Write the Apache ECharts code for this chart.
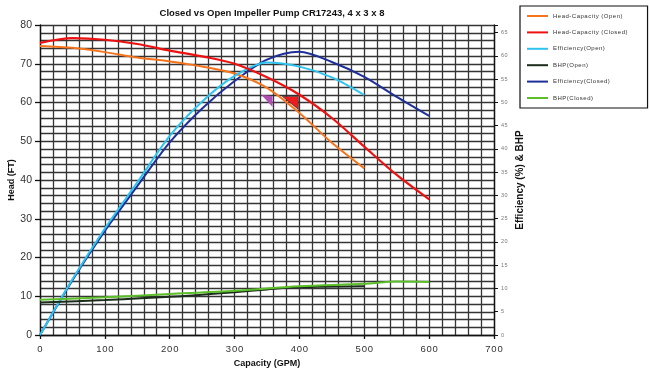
<!DOCTYPE html>
<html>
<head>
<meta charset="utf-8">
<title>Closed vs Open Impeller Pump</title>
<script src="https://cdn.jsdelivr.net/npm/echarts@6/dist/echarts.min.js"></script>
<style>
html, body { margin: 0; padding: 0; background: #fff; }
#chart { width: 650px; height: 375px; }
</style>
</head>
<body>
<div id="chart"></div>
<script>
var capClosed = [0, 50, 100, 150, 200, 250, 300, 350, 400, 450, 500, 550, 600];
var capOpen = [0, 50, 100, 150, 200, 250, 300, 350, 400, 450, 500];
var capBhpClosed = [0, 100, 200, 300, 400, 500, 550, 600];
var capBhpOpen = [0, 100, 200, 300, 350, 400, 500];

// head (ft), left axis
var headClosed = [75.4, 76.6, 76.2, 75.1, 73.4, 71.9, 70.0, 66.5, 62.0, 56.0, 48.6, 41.3, 35.0];
var headOpen = [74.6, 74.1, 73.0, 71.6, 70.6, 69.3, 67.5, 63.8, 57.3, 49.6, 43.0];

// efficiency (%) and BHP, right axis
var effClosed = [0, 11.8, 22.4, 32.0, 41.4, 48.7, 54.6, 59.2, 60.9, 58.7, 55.5, 51.2, 47.1];
var effOpen = [0, 12.0, 22.9, 32.8, 42.8, 50.2, 55.7, 58.6, 57.7, 55.4, 51.6];
var bhpClosed = [7.6, 8.1, 8.8, 9.5, 10.5, 11.0, 11.5, 11.4];
var bhpOpen = [7.0, 7.5, 8.2, 9.2, 9.8, 10.3, 10.5];

// the two little triangle marks sitting on the plot [GPM, head]
var markPurple = [350, 60.4];
var markRed = [386, 59.9];

var seriesNames = ['Head-Capacity (Open)', 'Head-Capacity (Closed)', 'Efficiency(Open)',
                   'BHP(Open)', 'Efficiency(Closed)', 'BHP(Closed)'];

function pairs(xs, ys) {
  return xs.map(function (x, i) { return [x, ys[i]]; });
}
function spaced(s) {
  return String(s).split('').join('\u200A');
}

var font = 'Liberation Sans, Arial, sans-serif';
var gridLine = { color: '#353535', width: 1.3 };

var chart = echarts.init(document.getElementById('chart'));

function line(name, color, width, yIdx, data, z) {
  return {
    name: name,
    type: 'line',
    yAxisIndex: yIdx,
    data: data,
    smooth: 0.3,
    showSymbol: false,
    z: z,
    lineStyle: { color: color, width: width },
    itemStyle: { color: color }
  };
}

var s = [
  line(seriesNames[0], '#f7741c', 2, 0, pairs(capOpen, headOpen), 3),
  line(seriesNames[1], '#ee1111', 2.2, 0, pairs(capClosed, headClosed), 4),
  line(seriesNames[2], '#2ec4f2', 2, 1, pairs(capOpen, effOpen), 3),
  line(seriesNames[3], '#1b2c1b', 2, 1, pairs(capBhpOpen, bhpOpen), 3),
  line(seriesNames[4], '#1f2f99', 2, 1, pairs(capClosed, effClosed), 2),
  line(seriesNames[5], '#5cbf2a', 2, 1, pairs(capBhpClosed, bhpClosed), 4)
];

s[1].markPoint = {
  silent: true,
  label: { show: false },
  data: [
    { coord: markPurple, symbol: 'path://M0,0 L11,1 L11,12 Z', symbolSize: [11, 12],
      itemStyle: { color: '#b24db4' } },
    { coord: markRed, symbol: 'path://M0,0 L16,0 L16,13 Z', symbolSize: [16, 13],
      itemStyle: { color: '#ee1c1c', borderColor: '#222', borderWidth: 0.6 } }
  ]
};

chart.setOption({
  animation: false,
  backgroundColor: '#fff',
  textStyle: { fontFamily: font },
  title: {
    text: 'Closed vs Open Impeller Pump CR17243, 4 x 3 x 8',
    left: 267,
    top: 3,
    textAlign: 'center',
    textStyle: { fontSize: 9.5, fontWeight: 'bold', color: '#111', fontFamily: font }
  },
  legend: {
    orient: 'vertical',
    left: 520,
    top: 6,
    padding: [6, 20, 6, 7],
    itemWidth: 21,
    itemHeight: 2,
    itemGap: 8.4,
    icon: 'rect',
    borderColor: '#111',
    borderWidth: 1.2,
    backgroundColor: '#fff',
    data: seriesNames,
    formatter: function (n) { return spaced(n); },
    textStyle: { fontSize: 6, lineHeight: 8, color: '#333', fontFamily: font }
  },
  grid: { left: 40, right: 156, top: 25, bottom: 40, outerBoundsMode: 'none' },
  xAxis: {
    type: 'value',
    min: 0,
    max: 700,
    interval: 100,
    name: 'Capacity (GPM)',
    nameLocation: 'middle',
    nameGap: 24,
    nameMoveOverlap: false,
    nameTextStyle: { fontSize: 9, fontWeight: 'bold', color: '#111', fontFamily: font },
    axisLine: { show: true, lineStyle: { color: '#111', width: 1.3 } },
    axisTick: { show: true, length: 4, lineStyle: { color: '#111', width: 1.3 } },
    axisLabel: { fontSize: 9.5, color: '#333', margin: 9,
                 formatter: function (v) { return spaced(v); } },
    splitLine: { show: true, lineStyle: gridLine },
    minorTick: { show: false, splitNumber: 5 },
    minorSplitLine: { show: true, lineStyle: gridLine }
  },
  yAxis: [
    {
      type: 'value',
      min: 0,
      max: 80,
      interval: 10,
      name: 'Head (FT)',
      nameLocation: 'middle',
      nameGap: 24,
      nameMoveOverlap: false,
      nameTextStyle: { fontSize: 9, fontWeight: 'bold', color: '#111', fontFamily: font },
      axisLine: { show: true, lineStyle: { color: '#111', width: 1.3 } },
      axisTick: { show: true, length: 5, lineStyle: { color: '#111', width: 1.3 } },
      axisLabel: { fontSize: 10.5, color: '#333', margin: 8 },
      splitLine: { show: true, lineStyle: gridLine },
      minorTick: { show: false, splitNumber: 5 },
      minorSplitLine: { show: true, lineStyle: gridLine }
    },
    {
      type: 'value',
      position: 'right',
      min: 0,
      max: 66.65,
      interval: 5,
      name: 'Efficiency (%) & BHP',
      nameLocation: 'middle',
      nameGap: 21,
      nameMoveOverlap: false,
      nameTextStyle: { fontSize: 10, fontWeight: 'bold', color: '#111', fontFamily: font },
      axisLine: { show: true, lineStyle: { color: '#111', width: 1.3 } },
      axisTick: { show: true, length: 4, lineStyle: { color: '#111', width: 1 } },
      axisLabel: { fontSize: 5.5, color: '#777', margin: 7,
                   formatter: function (v) { return v % 5 === 0 ? spaced(v) : ''; } },
      splitLine: { show: false }
    }
  ],
  series: s
});
</script>
</body>
</html>
